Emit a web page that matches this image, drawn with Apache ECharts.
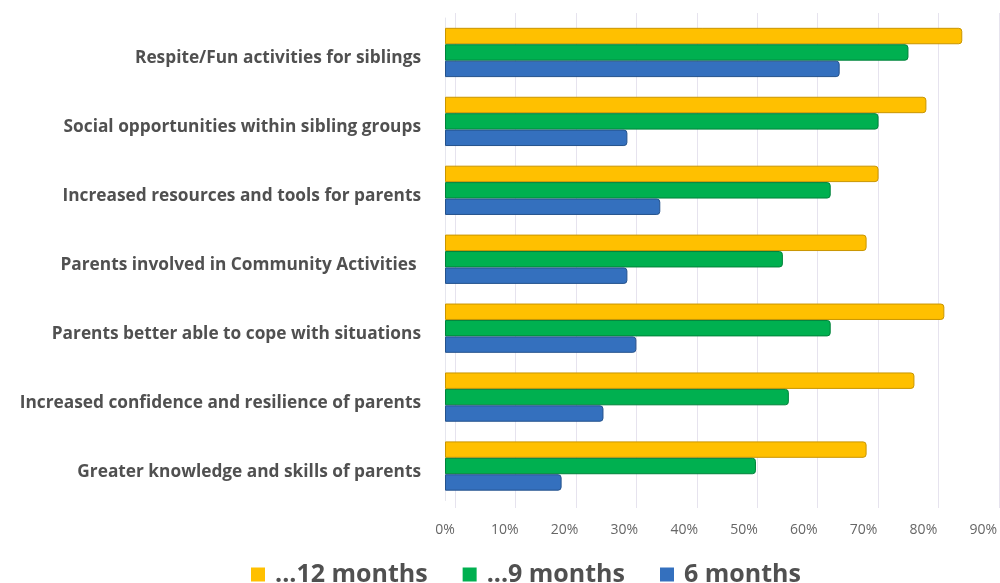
<!DOCTYPE html>
<html>
<head>
<meta charset="utf-8">
<script src="https://cdn.jsdelivr.net/npm/echarts@6/dist/echarts.min.js"></script>
<style>html,body{margin:0;padding:0;background:#fff}#c{width:1000px;height:583px}</style>
</head>
<body>
<div id="c"></div>
<script>
const categories = [
  'Respite/Fun activities for siblings',
  'Social opportunities within sibling groups',
  'Increased resources and tools for parents',
  'Parents involved in Community Activities ',
  'Parents better able to cope with situations',
  'Increased confidence and resilience of parents',
  'Greater knowledge and skills of parents'
];
const seriesNames = ['...12 months', '...9 months', '6 months'];
const months12 = [86.5, 80.5, 72.5, 70.5, 83.5, 78.5, 70.5];
const months9 = [77.5, 72.5, 64.5, 56.5, 64.5, 57.5, 52];
const months6 = [66, 30.5, 36, 30.5, 32, 26.5, 19.5];
const tickLabels = ['0%', '10%', '20%', '30%', '40%', '50%', '60%', '70%', '80%', '90%'];

const colors = ['#FFC000', '#00B050', '#3470BE'];
const borders = ['#C99500', '#00823A', '#24528C'];
const values = [months12, months9, months6];

const chart = echarts.init(document.getElementById('c'), null, {renderer: 'canvas'});
chart.setOption({
  animation: false,
  backgroundColor: '#ffffff',
  grid: [
    {left: 445, right: 15, top: 18, bottom: 82.5, containLabel: false},
    {left: 455, right: 1, top: 13, bottom: 75, containLabel: false}
  ],
  legend: {
    data: seriesNames,
    left: 246,
    top: 557,
    itemWidth: 14,
    itemHeight: 14,
    itemGap: 35,
    icon: 'rect',
    itemStyle: {borderWidth: 0},
    textStyle: {fontFamily: 'Open Sans', fontWeight: 'bold', fontSize: 25, color: '#505050', padding: [0, 0, 0, 5]}
  },
  xAxis: [
    {
      type: 'value', gridIndex: 0, min: 0, max: 90, interval: 10,
      axisLine: {show: false}, axisTick: {show: false}, splitLine: {show: false},
      axisLabel: {
        margin: 23, color: '#666666', fontFamily: 'Open Sans', fontSize: 14,
        formatter: (v) => tickLabels[Math.round(v / 10)]
      }
    },
    {
      type: 'value', gridIndex: 1, min: 0, max: 90, interval: 10,
      axisLine: {show: false}, axisTick: {show: false}, axisLabel: {show: false},
      splitLine: {show: true, lineStyle: {color: '#e6e3ee', width: 1}}
    }
  ],
  yAxis: [
    {
      type: 'category', gridIndex: 0, data: categories, inverse: true,
      axisLine: {show: true, lineStyle: {color: '#e6e6ee'}}, axisTick: {show: false},
      axisLabel: {
        margin: 24, color: '#505050', fontFamily: 'Open Sans', fontWeight: 'bold', fontSize: 17.3,
        verticalAlign: 'top', lineHeight: 12
      }
    },
    {type: 'value', gridIndex: 1, show: false, min: 0, max: 1}
  ],
  series: seriesNames.map((name, i) => ({
    name: name,
    type: 'bar',
    xAxisIndex: 0,
    yAxisIndex: 0,
    data: values[i],
    barGap: '0%',
    barCategoryGap: '28.5%',
    itemStyle: {
      color: colors[i],
      borderColor: borders[i],
      borderWidth: 1,
      borderRadius: [0, 3, 3, 0]
    }
  }))
});
</script>
</body>
</html>
